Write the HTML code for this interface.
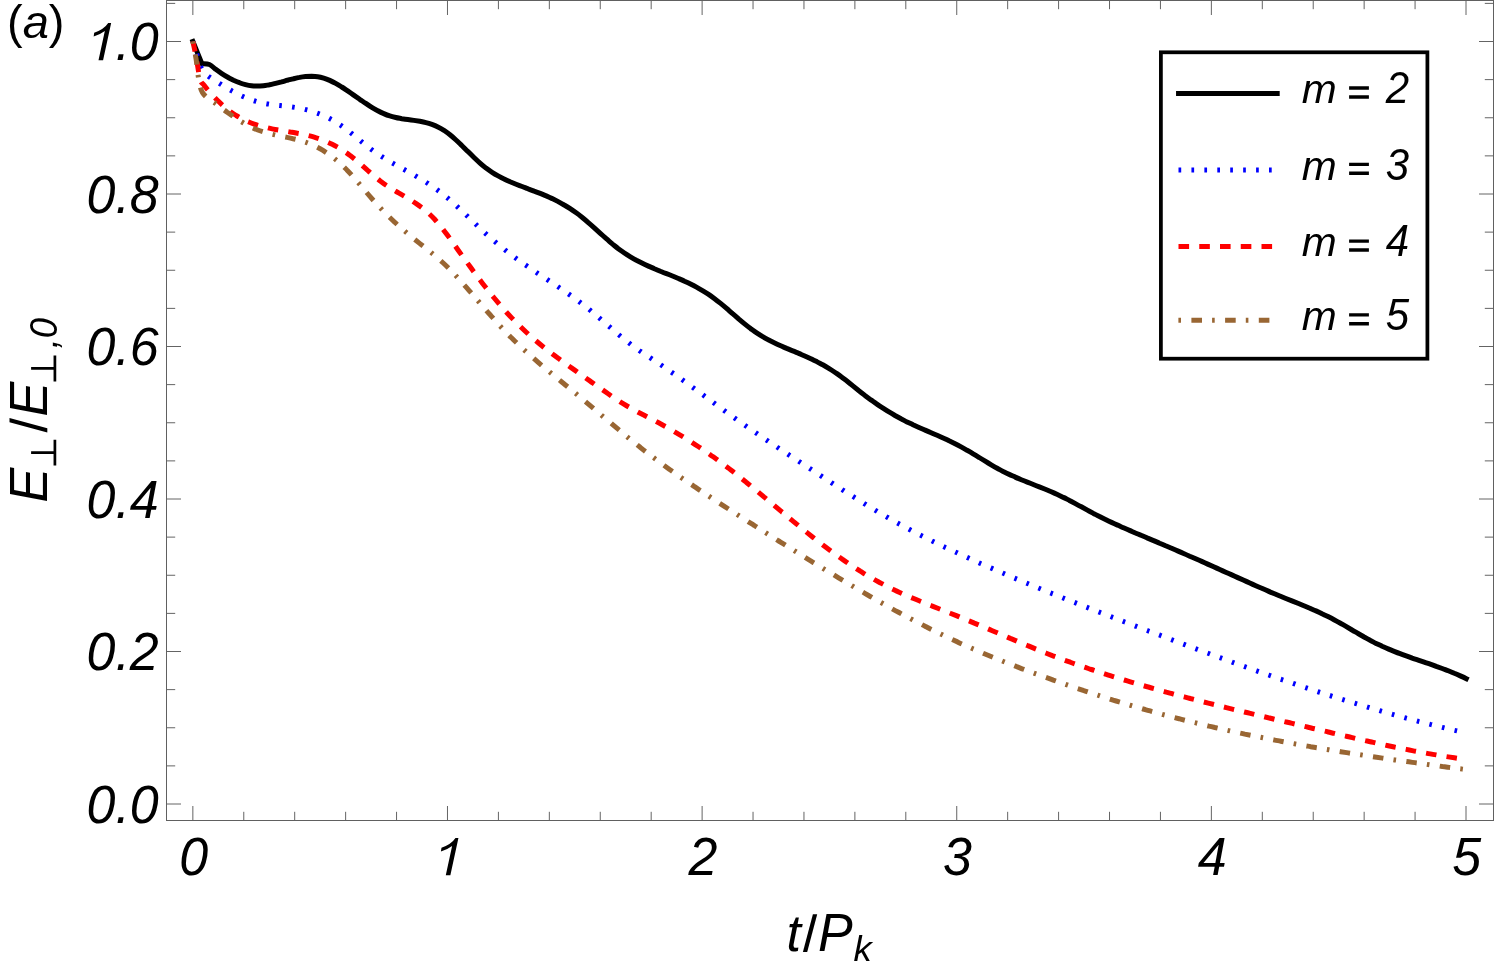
<!DOCTYPE html>
<html><head><meta charset="utf-8"><title>chart</title>
<style>html,body{margin:0;padding:0;background:#fff}svg{display:block;will-change:transform}text{font-family:"Liberation Sans",sans-serif;font-style:italic;fill:#000}</style></head>
<body>
<svg width="1495" height="965" viewBox="0 0 1495 965">
<rect x="0" y="0" width="1495" height="965" fill="#fff"/>
<g fill="none" stroke-width="5" stroke-linejoin="miter">
<path d="M192.9 41.4C193.7 43.3 195.9 48.9 197.4 52.6C198.9 56.3 201.2 61.8 201.9 63.6C203.2 63.8 207.1 63.6 209.4 64.5C211.7 65.4 213.4 67.7 215.4 69.1C217.4 70.6 219.4 72.0 221.4 73.3C223.4 74.6 225.4 75.9 227.4 77.0C229.4 78.2 231.5 79.2 233.5 80.2C235.5 81.1 237.5 82.0 239.5 82.7C241.5 83.5 243.5 84.1 245.5 84.6C247.5 85.1 249.5 85.5 251.5 85.7C253.5 86.0 255.5 86.1 257.5 86.1C259.5 86.1 261.5 85.9 263.5 85.7C265.5 85.5 267.5 85.1 269.5 84.8C271.5 84.4 273.5 83.9 275.6 83.4C277.6 82.9 279.6 82.4 281.6 81.9C283.6 81.3 285.6 80.8 287.6 80.2C289.6 79.7 291.6 79.1 293.6 78.7C295.6 78.2 297.6 77.7 299.6 77.4C301.6 77.0 303.6 76.7 305.6 76.5C307.6 76.3 309.6 76.2 311.6 76.2C313.6 76.3 315.6 76.4 317.6 76.7C319.7 77.0 321.7 77.5 323.7 78.1C325.7 78.7 327.7 79.5 329.7 80.4C331.7 81.3 333.7 82.3 335.7 83.4C337.7 84.5 339.7 85.7 341.7 87.0C343.7 88.2 345.7 89.6 347.7 90.9C349.7 92.3 351.7 93.7 353.7 95.1C355.7 96.5 357.7 97.9 359.7 99.3C361.8 100.7 363.8 102.1 365.8 103.4C367.8 104.8 369.8 106.1 371.8 107.3C373.8 108.5 375.8 109.7 377.8 110.7C379.8 111.8 381.8 112.8 383.8 113.6C385.8 114.5 387.8 115.3 389.8 115.9C391.8 116.5 393.8 117.0 395.8 117.5C397.8 118.0 399.8 118.3 401.8 118.7C403.8 119.0 405.9 119.3 407.9 119.5C409.9 119.8 411.9 120.1 413.9 120.4C415.9 120.7 417.9 121.0 419.9 121.3C421.9 121.7 423.9 122.1 425.9 122.6C427.9 123.1 429.9 123.7 431.9 124.4C433.9 125.1 435.9 125.9 437.9 126.9C439.9 127.9 441.9 129.0 443.9 130.3C445.9 131.7 448.0 133.2 450.0 134.8C452.0 136.4 454.0 138.2 456.0 140.0C458.0 141.8 460.0 143.8 462.0 145.7C464.0 147.6 466.0 149.7 468.0 151.6C470.0 153.6 472.0 155.6 474.0 157.5C476.0 159.4 478.0 161.3 480.0 163.1C482.0 164.9 484.0 166.5 486.0 168.1C488.0 169.6 490.0 171.0 492.1 172.3C494.1 173.6 496.1 174.8 498.1 175.9C500.1 177.0 502.1 178.1 504.1 179.0C506.1 180.0 508.1 180.9 510.1 181.8C512.1 182.6 514.1 183.4 516.1 184.2C518.1 185.0 520.1 185.8 522.1 186.5C524.1 187.3 526.1 188.0 528.1 188.8C530.1 189.5 532.1 190.3 534.1 191.1C536.2 191.8 538.2 192.6 540.2 193.4C542.2 194.2 544.2 195.1 546.2 195.9C548.2 196.8 550.2 197.7 552.2 198.6C554.2 199.6 556.2 200.6 558.2 201.6C560.2 202.7 562.2 203.8 564.2 205.0C566.2 206.1 568.2 207.4 570.2 208.7C572.2 210.0 574.2 211.4 576.2 212.8C578.3 214.3 580.3 215.9 582.3 217.5C584.3 219.1 586.3 220.8 588.3 222.6C590.3 224.3 592.3 226.1 594.3 227.9C596.3 229.7 598.3 231.5 600.3 233.3C602.3 235.1 604.3 236.9 606.3 238.7C608.3 240.4 610.3 242.2 612.3 243.9C614.3 245.5 616.3 247.2 618.3 248.7C620.3 250.2 622.4 251.6 624.4 253.0C626.4 254.4 628.4 255.6 630.4 256.8C632.4 258.0 634.4 259.2 636.4 260.3C638.4 261.3 640.4 262.3 642.4 263.3C644.4 264.3 646.4 265.2 648.4 266.1C650.4 267.0 652.4 267.8 654.4 268.7C656.4 269.5 658.4 270.3 660.4 271.2C662.4 272.0 664.4 272.8 666.5 273.6C668.5 274.4 670.5 275.2 672.5 276.0C674.5 276.8 676.5 277.7 678.5 278.5C680.5 279.4 682.5 280.2 684.5 281.2C686.5 282.1 688.5 283.0 690.5 284.0C692.5 285.0 694.5 286.0 696.5 287.1C698.5 288.2 700.5 289.4 702.5 290.6C704.5 291.8 706.5 293.0 708.6 294.4C710.6 295.7 712.6 297.2 714.6 298.7C716.6 300.2 718.6 301.8 720.6 303.4C722.6 305.0 724.6 306.7 726.6 308.4C728.6 310.2 730.6 311.9 732.6 313.7C734.6 315.4 736.6 317.1 738.6 318.9C740.6 320.6 742.6 322.3 744.6 323.9C746.6 325.5 748.6 327.1 750.6 328.6C752.7 330.1 754.7 331.6 756.7 332.9C758.7 334.2 760.7 335.5 762.7 336.7C764.7 337.9 766.7 339.0 768.7 340.0C770.7 341.1 772.7 342.1 774.7 343.0C776.7 344.0 778.7 344.9 780.7 345.8C782.7 346.7 784.7 347.5 786.7 348.4C788.7 349.2 790.7 350.1 792.7 350.9C794.8 351.7 796.8 352.6 798.8 353.4C800.8 354.3 802.8 355.1 804.8 356.0C806.8 356.9 808.8 357.8 810.8 358.7C812.8 359.7 814.8 360.6 816.8 361.6C818.8 362.7 820.8 363.7 822.8 364.8C824.8 365.9 826.8 367.1 828.8 368.3C830.8 369.6 832.8 370.9 834.8 372.2C836.8 373.6 838.9 375.0 840.9 376.5C842.9 378.0 844.9 379.6 846.9 381.1C848.9 382.7 850.9 384.3 852.9 385.9C854.9 387.5 856.9 389.1 858.9 390.7C860.9 392.2 862.9 393.8 864.9 395.4C866.9 396.9 868.9 398.4 870.9 399.9C872.9 401.3 874.9 402.8 876.9 404.1C878.9 405.5 880.9 406.8 883.0 408.1C885.0 409.4 887.0 410.7 889.0 411.9C891.0 413.1 893.0 414.3 895.0 415.5C897.0 416.6 899.0 417.7 901.0 418.8C903.0 419.8 905.0 420.9 907.0 421.9C909.0 422.9 911.0 423.8 913.0 424.8C915.0 425.7 917.0 426.6 919.0 427.5C921.0 428.4 923.0 429.3 925.1 430.1C927.1 431.0 929.1 431.9 931.1 432.7C933.1 433.6 935.1 434.5 937.1 435.3C939.1 436.2 941.1 437.1 943.1 438.0C945.1 438.9 947.1 439.8 949.1 440.8C951.1 441.7 953.1 442.7 955.1 443.7C957.1 444.7 959.1 445.8 961.1 446.9C963.1 448.0 965.1 449.1 967.1 450.3C969.2 451.4 971.2 452.6 973.2 453.9C975.2 455.1 977.2 456.3 979.2 457.5C981.2 458.8 983.2 460.0 985.2 461.2C987.2 462.4 989.2 463.6 991.2 464.8C993.2 466.0 995.2 467.2 997.2 468.3C999.2 469.4 1001.2 470.4 1003.2 471.5C1005.2 472.5 1007.2 473.5 1009.2 474.4C1011.3 475.4 1013.3 476.2 1015.3 477.1C1017.3 478.0 1019.3 478.9 1021.3 479.7C1023.3 480.5 1025.3 481.3 1027.3 482.1C1029.3 482.9 1031.3 483.7 1033.3 484.5C1035.3 485.3 1037.3 486.1 1039.3 486.9C1041.3 487.7 1043.3 488.5 1045.3 489.3C1047.3 490.1 1049.3 491.0 1051.3 491.8C1053.3 492.7 1055.4 493.6 1057.4 494.5C1059.4 495.4 1061.4 496.4 1063.4 497.4C1065.4 498.3 1067.4 499.4 1069.4 500.4C1071.4 501.4 1073.4 502.5 1075.4 503.6C1077.4 504.7 1079.4 505.8 1081.4 506.8C1083.4 507.9 1085.4 509.0 1087.4 510.1C1089.4 511.2 1091.4 512.3 1093.4 513.4C1095.4 514.4 1097.4 515.5 1099.5 516.5C1101.5 517.6 1103.5 518.6 1105.5 519.5C1107.5 520.5 1109.5 521.5 1111.5 522.4C1113.5 523.3 1115.5 524.2 1117.5 525.1C1119.5 526.1 1121.5 526.9 1123.5 527.8C1125.5 528.7 1127.5 529.6 1129.5 530.4C1131.5 531.3 1133.5 532.1 1135.5 533.0C1137.5 533.8 1139.5 534.7 1141.6 535.5C1143.6 536.4 1145.6 537.2 1147.6 538.1C1149.6 538.9 1151.6 539.8 1153.6 540.6C1155.6 541.5 1157.6 542.3 1159.6 543.2C1161.6 544.0 1163.6 544.9 1165.6 545.8C1167.6 546.6 1169.6 547.5 1171.6 548.3C1173.6 549.2 1175.6 550.1 1177.6 550.9C1179.6 551.8 1181.6 552.7 1183.6 553.5C1185.7 554.4 1187.7 555.3 1189.7 556.2C1191.7 557.0 1193.7 557.9 1195.7 558.8C1197.7 559.7 1199.7 560.6 1201.7 561.4C1203.7 562.3 1205.7 563.2 1207.7 564.1C1209.7 565.0 1211.7 565.9 1213.7 566.8C1215.7 567.7 1217.7 568.6 1219.7 569.5C1221.7 570.4 1223.7 571.3 1225.7 572.2C1227.7 573.1 1229.8 574.0 1231.8 574.9C1233.8 575.8 1235.8 576.7 1237.8 577.6C1239.8 578.5 1241.8 579.4 1243.8 580.3C1245.8 581.2 1247.8 582.1 1249.8 583.0C1251.8 583.9 1253.8 584.8 1255.8 585.7C1257.8 586.6 1259.8 587.5 1261.8 588.3C1263.8 589.2 1265.8 590.1 1267.8 590.9C1269.8 591.8 1271.9 592.7 1273.9 593.5C1275.9 594.3 1277.9 595.2 1279.9 596.0C1281.9 596.8 1283.9 597.7 1285.9 598.5C1287.9 599.3 1289.9 600.1 1291.9 600.9C1293.9 601.7 1295.9 602.5 1297.9 603.3C1299.9 604.1 1301.9 605.0 1303.9 605.8C1305.9 606.6 1307.9 607.5 1309.9 608.3C1311.9 609.2 1313.9 610.0 1316.0 610.9C1318.0 611.8 1320.0 612.7 1322.0 613.7C1324.0 614.6 1326.0 615.6 1328.0 616.6C1330.0 617.6 1332.0 618.6 1334.0 619.7C1336.0 620.8 1338.0 621.9 1340.0 623.0C1342.0 624.1 1344.0 625.3 1346.0 626.4C1348.0 627.6 1350.0 628.8 1352.0 630.0C1354.0 631.1 1356.0 632.3 1358.1 633.5C1360.1 634.7 1362.1 635.8 1364.1 637.0C1366.1 638.1 1368.1 639.2 1370.1 640.3C1372.1 641.3 1374.1 642.4 1376.1 643.4C1378.1 644.4 1380.1 645.3 1382.1 646.3C1384.1 647.2 1386.1 648.1 1388.1 648.9C1390.1 649.8 1392.1 650.6 1394.1 651.4C1396.1 652.2 1398.1 653.0 1400.1 653.7C1402.2 654.5 1404.2 655.2 1406.2 655.9C1408.2 656.6 1410.2 657.3 1412.2 658.1C1414.2 658.8 1416.2 659.4 1418.2 660.1C1420.2 660.8 1422.2 661.5 1424.2 662.2C1426.2 662.9 1428.2 663.5 1430.2 664.2C1432.2 664.9 1434.2 665.6 1436.2 666.4C1438.2 667.1 1440.2 667.8 1442.2 668.5C1444.2 669.3 1446.3 670.0 1448.3 670.8C1450.3 671.6 1452.3 672.4 1454.3 673.3C1456.3 674.1 1458.3 675.0 1460.3 675.9C1462.3 676.8 1465.3 678.2 1466.3 678.7" stroke="#000" stroke-linecap="square"/>
<path d="M192.9 41.4C193.5 43.3 195.3 49.0 196.5 53.0C197.7 57.0 198.9 62.1 200.1 65.2C201.3 68.3 202.2 69.7 203.5 71.5C204.8 73.3 206.4 74.7 208.2 76.1C210.0 77.5 212.2 78.8 214.2 80.1C216.2 81.4 218.2 82.7 220.2 83.9C222.2 85.2 224.2 86.4 226.2 87.6C228.2 88.8 230.2 90.0 232.2 91.1C234.2 92.2 236.2 93.3 238.2 94.3C240.2 95.3 242.1 96.2 244.1 97.1C246.1 98.0 248.1 98.8 250.1 99.5C252.1 100.2 254.1 100.9 256.1 101.4C258.1 102.0 260.1 102.5 262.1 102.9C264.1 103.3 266.1 103.7 268.1 104.0C270.1 104.3 272.1 104.6 274.1 104.8C276.1 105.1 278.1 105.3 280.1 105.5C282.1 105.7 284.1 105.9 286.1 106.2C288.1 106.4 290.1 106.7 292.1 107.0C294.1 107.3 296.1 107.6 298.1 107.9C300.1 108.3 302.1 108.7 304.1 109.2C306.1 109.7 308.0 110.2 310.0 110.7C312.0 111.3 314.0 112.0 316.0 112.7C318.0 113.4 320.0 114.1 322.0 115.0C324.0 115.8 326.0 116.7 328.0 117.7C330.0 118.7 332.0 119.8 334.0 121.0C336.0 122.1 338.0 123.4 340.0 124.8C342.0 126.1 344.0 127.6 346.0 129.1C348.0 130.6 350.0 132.2 352.0 133.8C354.0 135.4 356.0 137.1 358.0 138.7C360.0 140.4 362.0 142.1 364.0 143.7C366.0 145.3 368.0 146.9 370.0 148.4C372.0 149.9 373.9 151.3 375.9 152.7C377.9 154.1 379.9 155.4 381.9 156.7C383.9 158.0 385.9 159.2 387.9 160.4C389.9 161.5 391.9 162.7 393.9 163.8C395.9 165.0 397.9 166.1 399.9 167.2C401.9 168.3 403.9 169.4 405.9 170.5C407.9 171.6 409.9 172.7 411.9 173.8C413.9 174.9 415.9 176.1 417.9 177.3C419.9 178.4 421.9 179.6 423.9 180.9C425.9 182.1 427.9 183.4 429.9 184.8C431.9 186.1 433.9 187.5 435.9 188.9C437.9 190.4 439.9 191.8 441.8 193.4C443.8 194.9 445.8 196.6 447.8 198.2C449.8 199.9 451.8 201.7 453.8 203.4C455.8 205.2 457.8 207.1 459.8 209.0C461.8 210.8 463.8 212.7 465.8 214.7C467.8 216.6 469.8 218.5 471.8 220.4C473.8 222.4 475.8 224.3 477.8 226.2C479.8 228.1 481.8 230.0 483.8 231.8C485.8 233.7 487.8 235.5 489.8 237.2C491.8 239.0 493.8 240.7 495.8 242.4C497.8 244.1 499.8 245.7 501.8 247.3C503.8 248.9 505.8 250.5 507.7 252.1C509.7 253.6 511.7 255.1 513.7 256.6C515.7 258.1 517.7 259.5 519.7 260.9C521.7 262.4 523.7 263.8 525.7 265.1C527.7 266.5 529.7 267.9 531.7 269.2C533.7 270.6 535.7 271.9 537.7 273.3C539.7 274.6 541.7 275.9 543.7 277.2C545.7 278.5 547.7 279.9 549.7 281.2C551.7 282.5 553.7 283.8 555.7 285.2C557.7 286.5 559.7 287.9 561.7 289.2C563.7 290.6 565.7 292.0 567.7 293.4C569.7 294.8 571.7 296.2 573.6 297.6C575.6 299.1 577.6 300.5 579.6 302.0C581.6 303.5 583.6 305.1 585.6 306.6C587.6 308.2 589.6 309.8 591.6 311.5C593.6 313.1 595.6 314.8 597.6 316.5C599.6 318.2 601.6 320.0 603.6 321.7C605.6 323.4 607.6 325.2 609.6 326.9C611.6 328.7 613.6 330.4 615.6 332.1C617.6 333.8 619.6 335.5 621.6 337.1C623.6 338.8 625.6 340.4 627.6 341.9C629.6 343.5 631.6 345.0 633.6 346.5C635.6 347.9 637.6 349.3 639.5 350.7C641.5 352.1 643.5 353.4 645.5 354.8C647.5 356.1 649.5 357.4 651.5 358.7C653.5 360.1 655.5 361.4 657.5 362.7C659.5 364.0 661.5 365.3 663.5 366.7C665.5 368.0 667.5 369.4 669.5 370.8C671.5 372.2 673.5 373.6 675.5 375.0C677.5 376.4 679.5 377.8 681.5 379.2C683.5 380.7 685.5 382.1 687.5 383.5C689.5 385.0 691.5 386.5 693.5 387.9C695.5 389.4 697.5 390.8 699.5 392.3C701.5 393.8 703.5 395.3 705.4 396.7C707.4 398.2 709.4 399.7 711.4 401.1C713.4 402.6 715.4 404.1 717.4 405.6C719.4 407.0 721.4 408.5 723.4 409.9C725.4 411.4 727.4 412.9 729.4 414.3C731.4 415.7 733.4 417.2 735.4 418.6C737.4 420.0 739.4 421.4 741.4 422.8C743.4 424.2 745.4 425.6 747.4 427.0C749.4 428.4 751.4 429.8 753.4 431.1C755.4 432.5 757.4 433.9 759.4 435.2C761.4 436.6 763.4 437.9 765.4 439.3C767.4 440.6 769.4 442.0 771.3 443.3C773.3 444.6 775.3 445.9 777.3 447.3C779.3 448.6 781.3 449.9 783.3 451.2C785.3 452.5 787.3 453.8 789.3 455.2C791.3 456.5 793.3 457.8 795.3 459.1C797.3 460.4 799.3 461.7 801.3 463.0C803.3 464.3 805.3 465.6 807.3 466.9C809.3 468.2 811.3 469.5 813.3 470.8C815.3 472.1 817.3 473.4 819.3 474.7C821.3 476.1 823.3 477.4 825.3 478.7C827.3 480.0 829.3 481.3 831.3 482.6C833.3 483.9 835.3 485.2 837.2 486.5C839.2 487.7 841.2 489.0 843.2 490.3C845.2 491.6 847.2 492.9 849.2 494.2C851.2 495.4 853.2 496.7 855.2 497.9C857.2 499.2 859.2 500.5 861.2 501.7C863.2 502.9 865.2 504.2 867.2 505.4C869.2 506.6 871.2 507.8 873.2 509.0C875.2 510.2 877.2 511.4 879.2 512.6C881.2 513.8 883.2 514.9 885.2 516.1C887.2 517.2 889.2 518.4 891.2 519.5C893.2 520.6 895.2 521.8 897.2 522.9C899.2 524.0 901.2 525.0 903.2 526.1C905.1 527.2 907.1 528.3 909.1 529.3C911.1 530.4 913.1 531.4 915.1 532.4C917.1 533.5 919.1 534.5 921.1 535.5C923.1 536.5 925.1 537.5 927.1 538.5C929.1 539.5 931.1 540.5 933.1 541.5C935.1 542.5 937.1 543.4 939.1 544.4C941.1 545.4 943.1 546.3 945.1 547.3C947.1 548.2 949.1 549.1 951.1 550.1C953.1 551.0 955.1 551.9 957.1 552.8C959.1 553.8 961.1 554.7 963.1 555.6C965.1 556.5 967.1 557.4 969.1 558.3C971.0 559.2 973.0 560.1 975.0 561.0C977.0 561.9 979.0 562.8 981.0 563.7C983.0 564.5 985.0 565.4 987.0 566.3C989.0 567.2 991.0 568.0 993.0 568.9C995.0 569.8 997.0 570.6 999.0 571.5C1001.0 572.4 1003.0 573.2 1005.0 574.1C1007.0 574.9 1009.0 575.8 1011.0 576.6C1013.0 577.5 1015.0 578.3 1017.0 579.1C1019.0 580.0 1021.0 580.8 1023.0 581.6C1025.0 582.5 1027.0 583.3 1029.0 584.1C1031.0 584.9 1033.0 585.8 1035.0 586.6C1036.9 587.4 1038.9 588.2 1040.9 589.0C1042.9 589.9 1044.9 590.7 1046.9 591.5C1048.9 592.3 1050.9 593.1 1052.9 593.9C1054.9 594.7 1056.9 595.5 1058.9 596.3C1060.9 597.1 1062.9 597.9 1064.9 598.7C1066.9 599.5 1068.9 600.3 1070.9 601.1C1072.9 601.8 1074.9 602.6 1076.9 603.4C1078.9 604.2 1080.9 605.0 1082.9 605.8C1084.9 606.5 1086.9 607.3 1088.9 608.1C1090.9 608.9 1092.9 609.7 1094.9 610.4C1096.9 611.2 1098.9 612.0 1100.9 612.8C1102.8 613.5 1104.8 614.3 1106.8 615.1C1108.8 615.8 1110.8 616.6 1112.8 617.4C1114.8 618.1 1116.8 618.9 1118.8 619.7C1120.8 620.4 1122.8 621.2 1124.8 622.0C1126.8 622.7 1128.8 623.5 1130.8 624.2C1132.8 625.0 1134.8 625.8 1136.8 626.5C1138.8 627.3 1140.8 628.1 1142.8 628.8C1144.8 629.6 1146.8 630.3 1148.8 631.1C1150.8 631.8 1152.8 632.6 1154.8 633.4C1156.8 634.1 1158.8 634.9 1160.8 635.6C1162.8 636.4 1164.8 637.1 1166.8 637.9C1168.7 638.6 1170.7 639.4 1172.7 640.1C1174.7 640.9 1176.7 641.6 1178.7 642.4C1180.7 643.1 1182.7 643.9 1184.7 644.6C1186.7 645.4 1188.7 646.1 1190.7 646.9C1192.7 647.6 1194.7 648.4 1196.7 649.1C1198.7 649.8 1200.7 650.6 1202.7 651.3C1204.7 652.1 1206.7 652.8 1208.7 653.5C1210.7 654.3 1212.7 655.0 1214.7 655.7C1216.7 656.5 1218.7 657.2 1220.7 657.9C1222.7 658.6 1224.7 659.4 1226.7 660.1C1228.7 660.8 1230.7 661.5 1232.7 662.3C1234.6 663.0 1236.6 663.7 1238.6 664.4C1240.6 665.1 1242.6 665.9 1244.6 666.6C1246.6 667.3 1248.6 668.0 1250.6 668.7C1252.6 669.4 1254.6 670.1 1256.6 670.8C1258.6 671.5 1260.6 672.2 1262.6 672.9C1264.6 673.6 1266.6 674.3 1268.6 675.0C1270.6 675.7 1272.6 676.4 1274.6 677.1C1276.6 677.8 1278.6 678.5 1280.6 679.2C1282.6 679.8 1284.6 680.5 1286.6 681.2C1288.6 681.9 1290.6 682.6 1292.6 683.2C1294.6 683.9 1296.6 684.6 1298.6 685.3C1300.6 685.9 1302.5 686.6 1304.5 687.3C1306.5 687.9 1308.5 688.6 1310.5 689.2C1312.5 689.9 1314.5 690.6 1316.5 691.2C1318.5 691.9 1320.5 692.5 1322.5 693.1C1324.5 693.8 1326.5 694.4 1328.5 695.1C1330.5 695.7 1332.5 696.3 1334.5 697.0C1336.5 697.6 1338.5 698.2 1340.5 698.9C1342.5 699.5 1344.5 700.1 1346.5 700.7C1348.5 701.4 1350.5 702.0 1352.5 702.6C1354.5 703.2 1356.5 703.8 1358.5 704.4C1360.5 705.0 1362.5 705.6 1364.5 706.2C1366.5 706.8 1368.4 707.4 1370.4 708.0C1372.4 708.6 1374.4 709.2 1376.4 709.7C1378.4 710.3 1380.4 710.9 1382.4 711.5C1384.4 712.0 1386.4 712.6 1388.4 713.2C1390.4 713.8 1392.4 714.3 1394.4 714.9C1396.4 715.4 1398.4 716.0 1400.4 716.5C1402.4 717.1 1404.4 717.6 1406.4 718.2C1408.4 718.7 1410.4 719.2 1412.4 719.8C1414.4 720.3 1416.4 720.8 1418.4 721.4C1420.4 721.9 1422.4 722.4 1424.4 722.9C1426.4 723.4 1428.4 723.9 1430.4 724.4C1432.4 724.9 1434.3 725.4 1436.3 725.9C1438.3 726.4 1440.3 726.9 1442.3 727.4C1444.3 727.9 1446.3 728.4 1448.3 728.8C1450.3 729.3 1452.3 729.8 1454.3 730.3C1456.3 730.7 1458.3 731.2 1460.3 731.6C1462.3 732.1 1465.3 732.8 1466.3 733.0" stroke="#0000ff" stroke-dasharray="2.6 10.347"/>
<path d="M192.9 41.4C193.5 44.2 195.1 51.7 196.3 58.0C197.5 64.3 198.8 74.8 200.1 79.3C201.4 83.8 202.4 83.0 204.1 85.3C205.8 87.6 208.2 90.4 210.5 93.0C212.8 95.6 215.9 98.8 218.2 101.0C220.5 103.3 222.2 104.9 224.2 106.6C226.2 108.4 228.2 110.0 230.2 111.4C232.2 112.9 234.2 114.2 236.2 115.5C238.2 116.7 240.2 117.9 242.2 118.9C244.2 119.9 246.2 120.9 248.2 121.7C250.2 122.6 252.2 123.4 254.2 124.1C256.2 124.8 258.2 125.4 260.2 126.0C262.2 126.6 264.2 127.1 266.2 127.5C268.2 128.0 270.2 128.5 272.2 128.9C274.2 129.3 276.2 129.6 278.2 130.0C280.2 130.3 282.2 130.7 284.2 131.0C286.2 131.3 288.2 131.6 290.2 132.0C292.2 132.3 294.2 132.6 296.2 133.0C298.2 133.4 300.2 133.7 302.2 134.1C304.2 134.6 306.2 135.0 308.2 135.5C310.2 136.0 312.2 136.5 314.2 137.1C316.2 137.7 318.2 138.4 320.2 139.1C322.2 139.8 324.2 140.6 326.2 141.5C328.2 142.4 330.2 143.3 332.2 144.3C334.2 145.3 336.2 146.4 338.2 147.5C340.2 148.7 342.2 150.0 344.2 151.3C346.2 152.6 348.2 154.0 350.2 155.6C352.2 157.1 354.2 158.7 356.2 160.4C358.2 162.0 360.2 163.8 362.2 165.5C364.2 167.3 366.2 169.1 368.2 170.8C370.2 172.6 372.2 174.3 374.2 176.0C376.2 177.7 378.2 179.4 380.2 180.9C382.2 182.4 384.2 183.9 386.2 185.3C388.2 186.6 390.2 187.9 392.2 189.1C394.2 190.4 396.2 191.5 398.2 192.7C400.2 193.9 402.2 195.0 404.2 196.2C406.2 197.4 408.2 198.5 410.2 199.8C412.2 201.0 414.2 202.3 416.2 203.6C418.2 205.0 420.2 206.4 422.2 207.9C424.2 209.5 426.2 211.1 428.2 212.9C430.2 214.7 432.2 216.7 434.2 218.8C436.2 221.0 438.2 223.3 440.2 225.8C442.2 228.2 444.2 230.8 446.2 233.5C448.2 236.1 450.2 238.9 452.2 241.7C454.2 244.5 456.2 247.4 458.2 250.2C460.2 253.0 462.2 255.8 464.2 258.6C466.2 261.3 468.2 264.1 470.2 266.8C472.2 269.6 474.2 272.3 476.2 274.9C478.2 277.6 480.2 280.3 482.2 282.9C484.2 285.5 486.2 288.0 488.2 290.6C490.2 293.1 492.2 295.6 494.2 298.0C496.2 300.4 498.2 302.8 500.2 305.2C502.2 307.5 504.2 309.8 506.2 312.0C508.2 314.2 510.2 316.3 512.2 318.4C514.2 320.5 516.2 322.6 518.2 324.5C520.2 326.5 522.2 328.4 524.2 330.3C526.2 332.2 528.2 334.0 530.2 335.8C532.2 337.6 534.2 339.3 536.2 341.0C538.2 342.7 540.2 344.4 542.2 346.0C544.2 347.6 546.2 349.2 548.2 350.7C550.2 352.3 552.2 353.8 554.2 355.3C556.2 356.9 558.2 358.3 560.2 359.8C562.2 361.3 564.2 362.7 566.2 364.2C568.2 365.6 570.2 367.0 572.2 368.4C574.2 369.8 576.2 371.2 578.2 372.7C580.2 374.1 582.2 375.5 584.2 376.9C586.2 378.3 588.2 379.7 590.2 381.1C592.2 382.5 594.2 384.0 596.2 385.4C598.2 386.8 600.2 388.2 602.2 389.6C604.2 391.0 606.2 392.4 608.2 393.8C610.2 395.2 612.2 396.6 614.2 397.9C616.2 399.2 618.2 400.5 620.2 401.8C622.2 403.1 624.2 404.3 626.2 405.5C628.2 406.7 630.2 407.8 632.2 408.9C634.2 410.0 636.2 411.1 638.2 412.2C640.2 413.3 642.2 414.3 644.2 415.3C646.2 416.4 648.2 417.4 650.2 418.4C652.2 419.5 654.2 420.5 656.2 421.6C658.2 422.6 660.2 423.7 662.2 424.8C664.2 425.9 666.2 427.0 668.2 428.1C670.2 429.2 672.2 430.4 674.2 431.5C676.2 432.7 678.2 433.9 680.2 435.1C682.2 436.3 684.2 437.5 686.2 438.8C688.2 440.0 690.2 441.3 692.2 442.6C694.2 443.9 696.2 445.2 698.2 446.5C700.2 447.8 702.2 449.2 704.2 450.6C706.2 451.9 708.2 453.3 710.2 454.7C712.2 456.1 714.2 457.6 716.2 459.0C718.2 460.5 720.2 461.9 722.2 463.4C724.2 464.9 726.2 466.4 728.2 467.9C730.2 469.5 732.2 471.0 734.2 472.6C736.2 474.2 738.2 475.7 740.2 477.3C742.2 478.9 744.2 480.5 746.2 482.2C748.2 483.8 750.2 485.4 752.2 487.1C754.2 488.7 756.2 490.4 758.2 492.0C760.2 493.7 762.2 495.4 764.2 497.1C766.2 498.7 768.2 500.4 770.2 502.1C772.2 503.8 774.2 505.4 776.2 507.1C778.2 508.8 780.2 510.5 782.2 512.2C784.2 513.8 786.2 515.5 788.2 517.2C790.2 518.8 792.2 520.5 794.2 522.1C796.2 523.8 798.2 525.4 800.2 527.0C802.2 528.7 804.2 530.3 806.2 531.9C808.2 533.5 810.2 535.1 812.2 536.7C814.2 538.3 816.2 539.8 818.2 541.4C820.2 542.9 822.2 544.5 824.2 546.0C826.2 547.5 828.2 549.0 830.2 550.5C832.2 552.0 834.2 553.4 836.2 554.9C838.2 556.3 840.2 557.7 842.2 559.1C844.3 560.5 846.3 561.9 848.3 563.3C850.3 564.6 852.3 566.0 854.3 567.3C856.3 568.6 858.3 569.9 860.3 571.2C862.3 572.4 864.3 573.7 866.3 574.9C868.3 576.1 870.3 577.3 872.3 578.4C874.3 579.6 876.3 580.7 878.3 581.8C880.3 582.9 882.3 583.9 884.3 585.0C886.3 586.0 888.3 587.0 890.3 588.0C892.3 589.0 894.3 589.9 896.3 590.9C898.3 591.8 900.3 592.7 902.3 593.6C904.3 594.5 906.3 595.4 908.3 596.3C910.3 597.2 912.3 598.0 914.3 598.8C916.3 599.7 918.3 600.5 920.3 601.3C922.3 602.1 924.3 603.0 926.3 603.8C928.3 604.6 930.3 605.3 932.3 606.1C934.3 606.9 936.3 607.7 938.3 608.5C940.3 609.3 942.3 610.1 944.3 610.9C946.3 611.6 948.3 612.4 950.3 613.2C952.3 614.0 954.3 614.8 956.3 615.6C958.3 616.4 960.3 617.3 962.3 618.1C964.3 618.9 966.3 619.7 968.3 620.6C970.3 621.4 972.3 622.2 974.3 623.1C976.3 623.9 978.3 624.8 980.3 625.6C982.3 626.4 984.3 627.3 986.3 628.1C988.3 629.0 990.3 629.9 992.3 630.7C994.3 631.6 996.3 632.4 998.3 633.3C1000.3 634.1 1002.3 635.0 1004.3 635.8C1006.3 636.7 1008.3 637.5 1010.3 638.4C1012.3 639.2 1014.3 640.1 1016.3 640.9C1018.3 641.8 1020.3 642.6 1022.3 643.5C1024.3 644.3 1026.3 645.1 1028.3 645.9C1030.3 646.8 1032.3 647.6 1034.3 648.4C1036.3 649.2 1038.3 650.0 1040.3 650.8C1042.3 651.6 1044.3 652.4 1046.3 653.2C1048.3 654.0 1050.3 654.8 1052.3 655.6C1054.3 656.3 1056.3 657.1 1058.3 657.8C1060.3 658.6 1062.3 659.3 1064.3 660.1C1066.3 660.8 1068.3 661.5 1070.3 662.2C1072.3 663.0 1074.3 663.7 1076.3 664.4C1078.3 665.1 1080.3 665.8 1082.3 666.5C1084.3 667.1 1086.3 667.8 1088.3 668.5C1090.3 669.2 1092.3 669.8 1094.3 670.5C1096.3 671.2 1098.3 671.8 1100.3 672.5C1102.3 673.1 1104.3 673.8 1106.3 674.4C1108.3 675.0 1110.3 675.7 1112.3 676.3C1114.3 676.9 1116.3 677.5 1118.3 678.2C1120.3 678.8 1122.3 679.4 1124.3 680.0C1126.3 680.6 1128.3 681.2 1130.3 681.8C1132.3 682.4 1134.3 683.0 1136.3 683.6C1138.3 684.1 1140.3 684.7 1142.3 685.3C1144.3 685.9 1146.3 686.5 1148.3 687.0C1150.3 687.6 1152.3 688.2 1154.3 688.7C1156.3 689.3 1158.3 689.8 1160.3 690.4C1162.3 691.0 1164.3 691.5 1166.3 692.1C1168.3 692.6 1170.3 693.1 1172.3 693.7C1174.3 694.2 1176.3 694.8 1178.3 695.3C1180.3 695.8 1182.3 696.4 1184.3 696.9C1186.3 697.4 1188.3 697.9 1190.3 698.5C1192.3 699.0 1194.3 699.5 1196.3 700.0C1198.3 700.5 1200.3 701.1 1202.3 701.6C1204.3 702.1 1206.3 702.6 1208.3 703.1C1210.3 703.6 1212.3 704.1 1214.3 704.6C1216.3 705.1 1218.3 705.6 1220.3 706.1C1222.3 706.6 1224.3 707.1 1226.3 707.6C1228.3 708.1 1230.3 708.6 1232.3 709.1C1234.3 709.6 1236.3 710.0 1238.3 710.5C1240.3 711.0 1242.3 711.5 1244.3 712.0C1246.3 712.5 1248.3 713.0 1250.3 713.4C1252.3 713.9 1254.3 714.4 1256.3 714.9C1258.3 715.4 1260.3 715.8 1262.3 716.3C1264.3 716.8 1266.3 717.3 1268.3 717.8C1270.3 718.2 1272.3 718.7 1274.3 719.2C1276.3 719.7 1278.3 720.1 1280.3 720.6C1282.3 721.1 1284.3 721.6 1286.3 722.0C1288.3 722.5 1290.3 723.0 1292.3 723.4C1294.3 723.9 1296.3 724.4 1298.3 724.9C1300.3 725.3 1302.3 725.8 1304.3 726.3C1306.3 726.8 1308.3 727.2 1310.3 727.7C1312.3 728.2 1314.3 728.7 1316.3 729.1C1318.3 729.6 1320.3 730.1 1322.3 730.6C1324.3 731.0 1326.3 731.5 1328.3 732.0C1330.3 732.5 1332.3 732.9 1334.3 733.4C1336.3 733.9 1338.3 734.4 1340.3 734.8C1342.3 735.3 1344.3 735.8 1346.3 736.2C1348.3 736.7 1350.3 737.2 1352.3 737.6C1354.3 738.1 1356.3 738.6 1358.3 739.0C1360.3 739.5 1362.3 739.9 1364.3 740.4C1366.3 740.8 1368.3 741.3 1370.3 741.7C1372.3 742.2 1374.3 742.6 1376.3 743.1C1378.3 743.5 1380.3 744.0 1382.3 744.4C1384.3 744.8 1386.3 745.3 1388.3 745.7C1390.3 746.1 1392.3 746.5 1394.3 747.0C1396.3 747.4 1398.3 747.8 1400.3 748.2C1402.3 748.6 1404.3 749.0 1406.3 749.4C1408.3 749.8 1410.3 750.2 1412.3 750.6C1414.3 751.0 1416.3 751.4 1418.3 751.7C1420.3 752.1 1422.3 752.5 1424.3 752.8C1426.3 753.2 1428.3 753.6 1430.3 753.9C1432.3 754.3 1434.3 754.6 1436.3 754.9C1438.3 755.3 1440.3 755.6 1442.3 755.9C1444.3 756.3 1446.3 756.6 1448.3 756.9C1450.3 757.2 1452.3 757.5 1454.3 757.8C1456.3 758.1 1458.3 758.4 1460.3 758.6C1462.3 758.9 1465.3 759.3 1466.3 759.4" stroke="#ff0000" stroke-dasharray="10.5 10.237"/>
<path d="M192.9 41.4C193.4 44.4 195.2 53.6 196.1 59.2C197.0 64.9 197.4 70.8 198.1 75.3C198.8 79.8 199.3 83.1 200.0 86.0C200.7 88.9 201.2 90.5 202.5 92.6C203.8 94.7 205.9 96.7 208.0 98.5C210.1 100.3 213.0 101.6 215.2 103.2C217.4 104.7 219.2 106.2 221.2 107.8C223.2 109.3 225.2 110.7 227.2 112.2C229.2 113.6 231.2 115.0 233.2 116.4C235.2 117.7 237.1 119.1 239.1 120.3C241.1 121.6 243.1 122.7 245.1 123.9C247.1 125.0 249.1 126.0 251.1 127.0C253.1 128.0 255.1 128.9 257.1 129.7C259.1 130.5 261.1 131.2 263.1 131.8C265.1 132.5 267.1 133.0 269.1 133.5C271.1 134.1 273.1 134.5 275.1 134.9C277.1 135.4 279.1 135.8 281.0 136.2C283.0 136.6 285.0 137.0 287.0 137.4C289.0 137.8 291.0 138.2 293.0 138.7C295.0 139.1 297.0 139.6 299.0 140.1C301.0 140.7 303.0 141.3 305.0 142.0C307.0 142.7 309.0 143.4 311.0 144.3C313.0 145.1 315.0 146.1 317.0 147.1C319.0 148.1 321.0 149.2 323.0 150.4C324.9 151.7 326.9 153.0 328.9 154.4C330.9 155.8 332.9 157.3 334.9 158.9C336.9 160.5 338.9 162.2 340.9 164.1C342.9 165.9 344.9 167.8 346.9 169.9C348.9 171.9 350.9 174.1 352.9 176.4C354.9 178.6 356.9 181.0 358.9 183.3C360.9 185.6 362.9 188.1 364.9 190.4C366.8 192.8 368.8 195.1 370.8 197.4C372.8 199.7 374.8 202.0 376.8 204.1C378.8 206.3 380.8 208.4 382.8 210.5C384.8 212.6 386.8 214.6 388.8 216.6C390.8 218.5 392.8 220.5 394.8 222.3C396.8 224.2 398.8 226.0 400.8 227.8C402.8 229.5 404.8 231.2 406.8 232.9C408.8 234.6 410.7 236.2 412.7 237.8C414.7 239.4 416.7 241.0 418.7 242.6C420.7 244.2 422.7 245.7 424.7 247.3C426.7 248.9 428.7 250.5 430.7 252.1C432.7 253.8 434.7 255.4 436.7 257.2C438.7 258.9 440.7 260.6 442.7 262.5C444.7 264.3 446.7 266.3 448.7 268.3C450.7 270.2 452.6 272.3 454.6 274.4C456.6 276.5 458.6 278.7 460.6 280.9C462.6 283.1 464.6 285.4 466.6 287.6C468.6 289.9 470.6 292.2 472.6 294.5C474.6 296.8 476.6 299.2 478.6 301.5C480.6 303.8 482.6 306.1 484.6 308.4C486.6 310.8 488.6 313.1 490.6 315.3C492.6 317.6 494.6 319.9 496.5 322.1C498.5 324.3 500.5 326.5 502.5 328.6C504.5 330.7 506.5 332.8 508.5 334.8C510.5 336.9 512.5 338.8 514.5 340.8C516.5 342.7 518.5 344.6 520.5 346.5C522.5 348.4 524.5 350.2 526.5 352.0C528.5 353.9 530.5 355.6 532.5 357.4C534.5 359.2 536.5 360.9 538.5 362.6C540.4 364.3 542.4 366.0 544.4 367.7C546.4 369.4 548.4 371.0 550.4 372.7C552.4 374.3 554.4 376.0 556.4 377.6C558.4 379.2 560.4 380.9 562.4 382.5C564.4 384.1 566.4 385.8 568.4 387.4C570.4 389.0 572.4 390.7 574.4 392.3C576.4 394.0 578.4 395.6 580.4 397.3C582.3 399.0 584.3 400.6 586.3 402.3C588.3 404.0 590.3 405.7 592.3 407.4C594.3 409.1 596.3 410.8 598.3 412.5C600.3 414.2 602.3 415.9 604.3 417.6C606.3 419.3 608.3 421.0 610.3 422.6C612.3 424.3 614.3 426.0 616.3 427.7C618.3 429.4 620.3 431.0 622.3 432.7C624.3 434.4 626.2 436.0 628.2 437.7C630.2 439.3 632.2 440.9 634.2 442.5C636.2 444.1 638.2 445.7 640.2 447.3C642.2 448.9 644.2 450.5 646.2 452.0C648.2 453.5 650.2 455.1 652.2 456.6C654.2 458.1 656.2 459.6 658.2 461.1C660.2 462.6 662.2 464.0 664.2 465.5C666.2 466.9 668.2 468.4 670.1 469.8C672.1 471.2 674.1 472.6 676.1 474.0C678.1 475.4 680.1 476.8 682.1 478.2C684.1 479.6 686.1 481.0 688.1 482.3C690.1 483.7 692.1 485.0 694.1 486.4C696.1 487.7 698.1 489.1 700.1 490.4C702.1 491.7 704.1 493.0 706.1 494.4C708.1 495.7 710.1 497.0 712.0 498.3C714.0 499.6 716.0 500.9 718.0 502.2C720.0 503.5 722.0 504.8 724.0 506.1C726.0 507.4 728.0 508.7 730.0 510.0C732.0 511.3 734.0 512.5 736.0 513.8C738.0 515.1 740.0 516.4 742.0 517.7C744.0 519.0 746.0 520.2 748.0 521.5C750.0 522.8 752.0 524.0 754.0 525.3C755.9 526.6 757.9 527.9 759.9 529.1C761.9 530.4 763.9 531.6 765.9 532.9C767.9 534.2 769.9 535.4 771.9 536.7C773.9 537.9 775.9 539.2 777.9 540.5C779.9 541.7 781.9 543.0 783.9 544.2C785.9 545.5 787.9 546.7 789.9 547.9C791.9 549.2 793.9 550.4 795.9 551.7C797.8 552.9 799.8 554.1 801.8 555.4C803.8 556.6 805.8 557.9 807.8 559.1C809.8 560.3 811.8 561.5 813.8 562.8C815.8 564.0 817.8 565.2 819.8 566.4C821.8 567.7 823.8 568.9 825.8 570.1C827.8 571.3 829.8 572.5 831.8 573.7C833.8 574.9 835.8 576.1 837.8 577.3C839.8 578.5 841.7 579.7 843.7 580.9C845.7 582.1 847.7 583.3 849.7 584.5C851.7 585.6 853.7 586.8 855.7 588.0C857.7 589.2 859.7 590.3 861.7 591.5C863.7 592.6 865.7 593.8 867.7 595.0C869.7 596.1 871.7 597.2 873.7 598.4C875.7 599.5 877.7 600.7 879.7 601.8C881.7 602.9 883.7 604.0 885.6 605.1C887.6 606.3 889.6 607.4 891.6 608.5C893.6 609.6 895.6 610.7 897.6 611.7C899.6 612.8 901.6 613.9 903.6 615.0C905.6 616.1 907.6 617.1 909.6 618.2C911.6 619.2 913.6 620.3 915.6 621.3C917.6 622.4 919.6 623.4 921.6 624.4C923.6 625.5 925.6 626.5 927.5 627.5C929.5 628.5 931.5 629.5 933.5 630.5C935.5 631.5 937.5 632.5 939.5 633.4C941.5 634.4 943.5 635.4 945.5 636.3C947.5 637.3 949.5 638.2 951.5 639.2C953.5 640.1 955.5 641.0 957.5 641.9C959.5 642.9 961.5 643.8 963.5 644.7C965.5 645.6 967.5 646.5 969.5 647.3C971.4 648.2 973.4 649.1 975.4 649.9C977.4 650.8 979.4 651.7 981.4 652.5C983.4 653.3 985.4 654.2 987.4 655.0C989.4 655.8 991.4 656.7 993.4 657.5C995.4 658.3 997.4 659.1 999.4 659.9C1001.4 660.7 1003.4 661.5 1005.4 662.3C1007.4 663.0 1009.4 663.8 1011.4 664.6C1013.3 665.4 1015.3 666.1 1017.3 666.9C1019.3 667.7 1021.3 668.4 1023.3 669.2C1025.3 669.9 1027.3 670.7 1029.3 671.4C1031.3 672.1 1033.3 672.9 1035.3 673.6C1037.3 674.3 1039.3 675.0 1041.3 675.8C1043.3 676.5 1045.3 677.2 1047.3 677.9C1049.3 678.6 1051.3 679.3 1053.3 680.1C1055.3 680.8 1057.2 681.5 1059.2 682.2C1061.2 682.9 1063.2 683.6 1065.2 684.2C1067.2 684.9 1069.2 685.6 1071.2 686.3C1073.2 687.0 1075.2 687.7 1077.2 688.4C1079.2 689.0 1081.2 689.7 1083.2 690.4C1085.2 691.0 1087.2 691.7 1089.2 692.4C1091.2 693.0 1093.2 693.7 1095.2 694.3C1097.2 695.0 1099.2 695.6 1101.1 696.3C1103.1 696.9 1105.1 697.5 1107.1 698.2C1109.1 698.8 1111.1 699.4 1113.1 700.1C1115.1 700.7 1117.1 701.3 1119.1 701.9C1121.1 702.5 1123.1 703.1 1125.1 703.7C1127.1 704.3 1129.1 704.9 1131.1 705.5C1133.1 706.1 1135.1 706.7 1137.1 707.3C1139.1 707.9 1141.1 708.4 1143.0 709.0C1145.0 709.6 1147.0 710.1 1149.0 710.7C1151.0 711.3 1153.0 711.8 1155.0 712.4C1157.0 712.9 1159.0 713.5 1161.0 714.0C1163.0 714.6 1165.0 715.1 1167.0 715.6C1169.0 716.1 1171.0 716.7 1173.0 717.2C1175.0 717.7 1177.0 718.2 1179.0 718.7C1181.0 719.3 1183.0 719.8 1185.0 720.3C1186.9 720.8 1188.9 721.3 1190.9 721.8C1192.9 722.3 1194.9 722.7 1196.9 723.2C1198.9 723.7 1200.9 724.2 1202.9 724.7C1204.9 725.1 1206.9 725.6 1208.9 726.1C1210.9 726.5 1212.9 727.0 1214.9 727.5C1216.9 727.9 1218.9 728.4 1220.9 728.8C1222.9 729.3 1224.9 729.7 1226.9 730.2C1228.9 730.6 1230.8 731.1 1232.8 731.5C1234.8 731.9 1236.8 732.4 1238.8 732.8C1240.8 733.2 1242.8 733.6 1244.8 734.1C1246.8 734.5 1248.8 734.9 1250.8 735.3C1252.8 735.7 1254.8 736.1 1256.8 736.5C1258.8 736.9 1260.8 737.3 1262.8 737.7C1264.8 738.1 1266.8 738.5 1268.8 738.9C1270.8 739.3 1272.7 739.7 1274.7 740.1C1276.7 740.5 1278.7 740.8 1280.7 741.2C1282.7 741.6 1284.7 742.0 1286.7 742.3C1288.7 742.7 1290.7 743.1 1292.7 743.5C1294.7 743.8 1296.7 744.2 1298.7 744.5C1300.7 744.9 1302.7 745.3 1304.7 745.6C1306.7 746.0 1308.7 746.3 1310.7 746.7C1312.7 747.0 1314.7 747.4 1316.6 747.7C1318.6 748.0 1320.6 748.4 1322.6 748.7C1324.6 749.1 1326.6 749.4 1328.6 749.7C1330.6 750.1 1332.6 750.4 1334.6 750.7C1336.6 751.0 1338.6 751.4 1340.6 751.7C1342.6 752.0 1344.6 752.3 1346.6 752.6C1348.6 753.0 1350.6 753.3 1352.6 753.6C1354.6 753.9 1356.6 754.2 1358.5 754.5C1360.5 754.8 1362.5 755.1 1364.5 755.4C1366.5 755.7 1368.5 756.0 1370.5 756.3C1372.5 756.6 1374.5 756.9 1376.5 757.2C1378.5 757.5 1380.5 757.8 1382.5 758.1C1384.5 758.4 1386.5 758.7 1388.5 759.0C1390.5 759.3 1392.5 759.6 1394.5 759.9C1396.5 760.1 1398.5 760.4 1400.5 760.7C1402.4 761.0 1404.4 761.3 1406.4 761.6C1408.4 761.8 1410.4 762.1 1412.4 762.4C1414.4 762.7 1416.4 763.0 1418.4 763.2C1420.4 763.5 1422.4 763.8 1424.4 764.0C1426.4 764.3 1428.4 764.6 1430.4 764.9C1432.4 765.1 1434.4 765.4 1436.4 765.7C1438.4 765.9 1440.4 766.2 1442.4 766.5C1444.4 766.7 1446.3 767.0 1448.3 767.3C1450.3 767.5 1452.3 767.8 1454.3 768.0C1456.3 768.3 1458.3 768.6 1460.3 768.8C1462.3 769.1 1465.3 769.5 1466.3 769.6" stroke="#996633" stroke-dasharray="2.6 10.39 10.5 10.222"/>
</g>
<path d="M192.85 820.50 L192.85 806.00M192.85 0.50 L192.85 15.00M243.78 820.50 L243.78 811.80M243.78 0.50 L243.78 9.20M294.70 820.50 L294.70 811.80M294.70 0.50 L294.70 9.20M345.63 820.50 L345.63 811.80M345.63 0.50 L345.63 9.20M396.55 820.50 L396.55 811.80M396.55 0.50 L396.55 9.20M447.48 820.50 L447.48 806.00M447.48 0.50 L447.48 15.00M498.41 820.50 L498.41 811.80M498.41 0.50 L498.41 9.20M549.33 820.50 L549.33 811.80M549.33 0.50 L549.33 9.20M600.26 820.50 L600.26 811.80M600.26 0.50 L600.26 9.20M651.18 820.50 L651.18 811.80M651.18 0.50 L651.18 9.20M702.11 820.50 L702.11 806.00M702.11 0.50 L702.11 15.00M753.04 820.50 L753.04 811.80M753.04 0.50 L753.04 9.20M803.96 820.50 L803.96 811.80M803.96 0.50 L803.96 9.20M854.89 820.50 L854.89 811.80M854.89 0.50 L854.89 9.20M905.81 820.50 L905.81 811.80M905.81 0.50 L905.81 9.20M956.74 820.50 L956.74 806.00M956.74 0.50 L956.74 15.00M1007.67 820.50 L1007.67 811.80M1007.67 0.50 L1007.67 9.20M1058.59 820.50 L1058.59 811.80M1058.59 0.50 L1058.59 9.20M1109.52 820.50 L1109.52 811.80M1109.52 0.50 L1109.52 9.20M1160.44 820.50 L1160.44 811.80M1160.44 0.50 L1160.44 9.20M1211.37 820.50 L1211.37 806.00M1211.37 0.50 L1211.37 15.00M1262.30 820.50 L1262.30 811.80M1262.30 0.50 L1262.30 9.20M1313.22 820.50 L1313.22 811.80M1313.22 0.50 L1313.22 9.20M1364.15 820.50 L1364.15 811.80M1364.15 0.50 L1364.15 9.20M1415.07 820.50 L1415.07 811.80M1415.07 0.50 L1415.07 9.20M1466.00 820.50 L1466.00 806.00M1466.00 0.50 L1466.00 15.00M166.50 804.00 L181.00 804.00M1493.50 804.00 L1479.00 804.00M166.50 765.88 L175.20 765.88M1493.50 765.88 L1484.80 765.88M166.50 727.75 L175.20 727.75M1493.50 727.75 L1484.80 727.75M166.50 689.62 L175.20 689.62M1493.50 689.62 L1484.80 689.62M166.50 651.50 L181.00 651.50M1493.50 651.50 L1479.00 651.50M166.50 613.38 L175.20 613.38M1493.50 613.38 L1484.80 613.38M166.50 575.25 L175.20 575.25M1493.50 575.25 L1484.80 575.25M166.50 537.12 L175.20 537.12M1493.50 537.12 L1484.80 537.12M166.50 499.00 L181.00 499.00M1493.50 499.00 L1479.00 499.00M166.50 460.88 L175.20 460.88M1493.50 460.88 L1484.80 460.88M166.50 422.75 L175.20 422.75M1493.50 422.75 L1484.80 422.75M166.50 384.62 L175.20 384.62M1493.50 384.62 L1484.80 384.62M166.50 346.50 L181.00 346.50M1493.50 346.50 L1479.00 346.50M166.50 308.38 L175.20 308.38M1493.50 308.38 L1484.80 308.38M166.50 270.25 L175.20 270.25M1493.50 270.25 L1484.80 270.25M166.50 232.12 L175.20 232.12M1493.50 232.12 L1484.80 232.12M166.50 194.00 L181.00 194.00M1493.50 194.00 L1479.00 194.00M166.50 155.87 L175.20 155.87M1493.50 155.87 L1484.80 155.87M166.50 117.75 L175.20 117.75M1493.50 117.75 L1484.80 117.75M166.50 79.62 L175.20 79.62M1493.50 79.62 L1484.80 79.62M166.50 41.50 L181.00 41.50M1493.50 41.50 L1479.00 41.50M166.50 3.38 L175.20 3.38M1493.50 3.38 L1484.80 3.38" stroke="#646464" stroke-width="1" fill="none"/>
<rect x="166.5" y="0.5" width="1327.0" height="820.0" fill="none" stroke="#606060" stroke-width="1"/>
<text transform="translate(86.50,822.70) scale(1,1.041)" font-size="52" text-anchor="start">0.0</text>
<text transform="translate(86.50,670.20) scale(1,1.041)" font-size="52" text-anchor="start">0.2</text>
<text transform="translate(86.50,517.70) scale(1,1.041)" font-size="52" text-anchor="start">0.4</text>
<text transform="translate(86.50,365.20) scale(1,1.041)" font-size="52" text-anchor="start">0.6</text>
<text transform="translate(86.50,212.70) scale(1,1.041)" font-size="52" text-anchor="start">0.8</text>
<path d="M465 0H645L963 1467H847Q690 1225 295 1082L274 934Q530 1010 714 1150Z" transform="translate(86.70,60.20) scale(0.02539,-0.02539)" fill="#000"/>
<text transform="translate(115.42,60.20) scale(1,1.041)" font-size="52" text-anchor="start">.0</text>
<text transform="translate(179.15,875.20) scale(1,1.041)" font-size="52" text-anchor="start">0</text>
<path d="M465 0H645L963 1467H847Q690 1225 295 1082L274 934Q530 1010 714 1150Z" transform="translate(433.98,875.20) scale(0.02539,-0.02539)" fill="#000"/>
<text transform="translate(688.41,875.20) scale(1,1.041)" font-size="52" text-anchor="start">2</text>
<text transform="translate(943.04,875.20) scale(1,1.041)" font-size="52" text-anchor="start">3</text>
<text transform="translate(1197.67,875.20) scale(1,1.041)" font-size="52" text-anchor="start">4</text>
<text transform="translate(1452.30,875.20) scale(1,1.041)" font-size="52" text-anchor="start">5</text>
<text transform="translate(786.60,951.40) scale(1,0.987)" font-size="52" text-anchor="start">t</text>
<path d="M802.9 952H807.2L817.2 914.2H812.9Z" fill="#000"/>
<text transform="translate(818.00,951.40) scale(1,1.041)" font-size="52" text-anchor="start">P</text>
<text transform="translate(853.60,960.60) scale(1,0.987)" font-size="36.4" text-anchor="start">k</text>
<text x="7" y="37.5" font-size="47"><tspan font-style="normal">(</tspan>a<tspan font-style="normal">)</tspan></text>
<g transform="translate(46.7,502.2) rotate(-90)"><text transform="translate(-0.30,0.00) scale(1,1.041)" font-size="52" text-anchor="start">E</text><text transform="translate(85.70,0.00) scale(1,1.041)" font-size="52" text-anchor="start">E</text><path d="M69.7 0.6H74L84.2 -37.2H79.9Z" fill="#000"/><text transform="translate(153.80,9.80) scale(1,1.041)" font-size="36.4" text-anchor="start">,0</text><path d="M36.6 8.2H62.5M49.55 8.2V-15.6M120.8 8.2H146.7M133.75 8.2V-15.6" stroke="#000" stroke-width="2.7" fill="none"/></g>
<rect x="1160.9" y="52.3" width="266.5" height="306.4" fill="#fff" stroke="#000" stroke-width="3.75"/>
<g fill="none" stroke-width="5">
<path d="M1178.55 93.55H1277.2" stroke="#000" stroke-linecap="square"/>
<path d="M1178.5 170H1277.2" stroke="#0000ff" stroke-dasharray="2.7 10.23"/>
<path d="M1178.5 246.6H1277.2" stroke="#ff0000" stroke-dasharray="10.6 10.15"/>
<path d="M1178.4 320.3H1277.2" stroke="#996633" stroke-dasharray="2.6 10.4 10.6 10.1"/>
</g>
<text transform="translate(1301.80,103.10) scale(1,0.987)" font-size="42" text-anchor="start">m</text>
<path d="M1349.1 86.3h19.8v3.4h-19.8zM1349.1 95.2h19.8v3.5h-19.8z" fill="#000"/>
<text transform="translate(1385.80,103.10) scale(1,1.041)" font-size="42" text-anchor="start">2</text>
<text transform="translate(1301.80,179.50) scale(1,0.987)" font-size="42" text-anchor="start">m</text>
<path d="M1349.1 162.7h19.8v3.4h-19.8zM1349.1 171.6h19.8v3.5h-19.8z" fill="#000"/>
<text transform="translate(1385.80,179.50) scale(1,1.041)" font-size="42" text-anchor="start">3</text>
<text transform="translate(1301.80,256.20) scale(1,0.987)" font-size="42" text-anchor="start">m</text>
<path d="M1349.1 239.4h19.8v3.4h-19.8zM1349.1 248.3h19.8v3.5h-19.8z" fill="#000"/>
<text transform="translate(1385.80,256.20) scale(1,1.041)" font-size="42" text-anchor="start">4</text>
<text transform="translate(1301.80,330.00) scale(1,0.987)" font-size="42" text-anchor="start">m</text>
<path d="M1349.1 313.2h19.8v3.4h-19.8zM1349.1 322.1h19.8v3.5h-19.8z" fill="#000"/>
<text transform="translate(1385.80,330.00) scale(1,1.041)" font-size="42" text-anchor="start">5</text>
</svg>
</body></html>
